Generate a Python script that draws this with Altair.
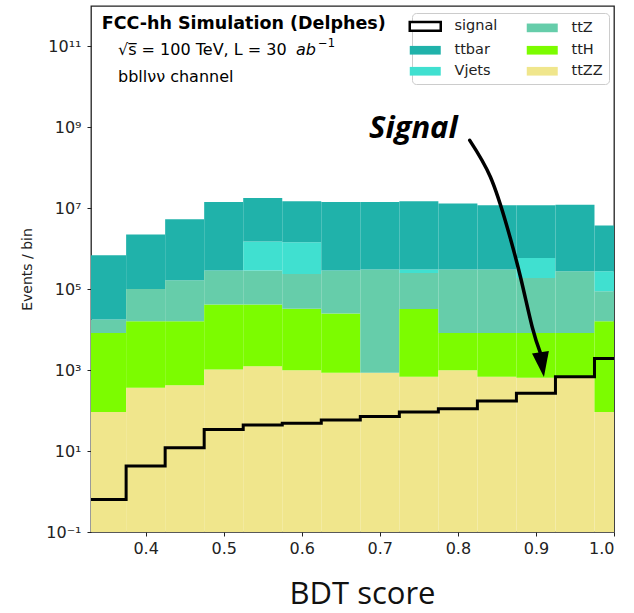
import altair as alt
import pandas as pd

# ---------------- data ----------------
bin_lo = [0.325, 0.375, 0.425, 0.475, 0.525, 0.575, 0.625, 0.675, 0.725, 0.775, 0.825, 0.875, 0.925, 0.975]
bin_hi = [0.375, 0.425, 0.475, 0.525, 0.575, 0.625, 0.675, 0.725, 0.775, 0.825, 0.875, 0.925, 0.975, 1.025]

# per-process events / bin (stack order bottom -> top)
ttZZ = [92, 366, 426, 1040, 1256, 1000, 867, 859, 684, 1000, 684, 645, 711, 92]
ttH = [8200, 15800, 15800, 40900, 40600, 31700, 24200, 0, 32000, 7300, 7600, 7650, 7600, 16100]
ttZ = [9600, 85800, 150800, 248000, 248000, 206000, 265000, 305000, 220000, 298000, 298000, 182000, 270000, 72800]
Vjets = [0, 0, 0, 0, 1220000, 1210000, 0, 0, 53000, 0, 0, 403000, 0, 189000]
ttbar = [672000, 2140000, 5180000, 14000000, 16500000, 13450000, 14000000, 14000000, 14600000,
         12800000, 11600000, 11300000, 12000000, 3460000]
signal = [0.64, 4.3, 12, 34, 44, 49, 59, 72, 92, 111, 172, 270, 684, 1945]

stack_names = ["ttZZ", "ttH", "ttZ", "Vjets", "ttbar"]
stack_vals = [ttZZ, ttH, ttZ, Vjets, ttbar]

legend_order = ["signal", "ttbar", "Vjets", "ttZ", "ttH", "ttZZ"]
legend_colors = ["#ffffff", "#20B2AA", "#40E0D0", "#66CDAA", "#7CFC00", "#F0E68C"]

y_ticks = [0.1, 10, 1e3, 1e5, 1e7, 1e9, 1e11]
x_ticks = [0.4, 0.5, 0.6, 0.7, 0.8, 0.9, 1.0]

# ---------------- tables ----------------
rows = []
for i in range(len(bin_lo)):
    cum = 0.1
    for name, vals in zip(stack_names, stack_vals):
        bottom = cum
        top = (cum if cum > 0.1 else 0) + vals[i]
        top = max(top, bottom)
        rows.append({"process": name, "lo": bin_lo[i], "hi": bin_hi[i], "bottom": bottom, "top": top})
        cum = top
df = pd.DataFrame(rows)

sig_df = pd.DataFrame({"x": bin_lo + [bin_hi[-1]], "y": signal + [signal[-1]]})

# annotation arrow (BDT score, log10 events)
arrow_x = [0.8152, 0.8417, 0.8631, 0.8802, 0.8952, 0.9059]
arrow_logy = [8.68, 7.774, 6.538, 5.302, 4.066, 3.416]
arrow_df = pd.DataFrame({"x": arrow_x, "y": [10 ** v for v in arrow_logy], "i": list(range(len(arrow_x)))})
head_df = pd.DataFrame({"x": [0.908], "y": [10 ** 3.137]})

# ---------------- encodings ----------------
xscale = alt.Scale(domain=[0.33, 1.0], nice=False, zero=False)
yscale = alt.Scale(type="log", domain=[0.1, 1e12], nice=False)

xaxis = alt.Axis(values=x_ticks, format=".1f", title="BDT score", titleFont="Open Sans",
                 titleFontSize=31, titleFontWeight="normal", titleColor="#111",
                 titleX=271, titleY=71, titleAnchor="start", titleAlign="center",
                 titleBaseline="alphabetic", labelPadding=4)
yaxis = alt.Axis(values=y_ticks,
                 labelExpr="'10' + ['⁻¹','¹','³','⁵','⁷','⁹','¹¹'][round((log(datum.value)/LN10 + 1)/2)]",
                 title="Events / bin", titleFont="DejaVu Sans", titleFontSize=14,
                 titleFontWeight="normal", titleColor="#222", titleAngle=-90,
                 titleX=-64, titleY=263, titleAlign="center", titleBaseline="middle",
                 labelPadding=6)


def X(field):
    return alt.X(field, scale=xscale, axis=xaxis, title="BDT score")


def Y(field):
    return alt.Y(field, scale=yscale, axis=yaxis, title="Events / bin")


bars = alt.Chart(df).mark_rect(clip=True).encode(
    x=X("lo:Q"), x2="hi:Q",
    y=Y("top:Q"), y2="bottom:Q",
    color=alt.Color("process:N",
                    scale=alt.Scale(domain=legend_order, range=legend_colors),
                    legend=alt.Legend(
                        title=None, orient="none", legendX=321, legendY=7, columns=2,
                        symbolType="M-1,-0.28H1V0.28H-1Z", symbolSize=961,
                        symbolStrokeColor="black",
                        symbolStrokeWidth={"expr": "datum.value == 'signal' ? 2.5 : 0"},
                        labelFont="DejaVu Sans", labelFontSize=14.5, labelColor="#222",
                        labelOffset=22, columnPadding=28, rowPadding=6, padding=6,
                        strokeColor="#cccccc", fillColor="rgba(255,255,255,0.85)",
                        cornerRadius=4)),
)

sig_line = alt.Chart(sig_df).mark_line(interpolate="step-after", color="black",
                                       strokeWidth=3, clip=True).encode(x=X("x:Q"), y=Y("y:Q"))

arrow = alt.Chart(arrow_df).mark_line(interpolate="natural", color="black", strokeWidth=3.5,
                                      strokeCap="round").encode(x=X("x:Q"), y=Y("y:Q"), order="i:Q")
head = alt.Chart(head_df).mark_point(shape="M-0.68,-1L0.68,-1L0,1Z", filled=True, size=625,
                                     angle=352, color="black", opacity=1).encode(x=X("x:Q"), y=Y("y:Q"))


def label(text, x, y, size, weight="normal", style="normal", font="DejaVu Sans"):
    return alt.Chart(pd.DataFrame({"t": [text]})).mark_text(
        align="left", baseline="alphabetic", fontSize=size, fontWeight=weight,
        fontStyle=style, font=font, color="black").encode(
        x=alt.value(x), y=alt.value(y), text="t:N")


texts = [
    label("FCC-hh Simulation (Delphes)", 10.7, 23.3, 17.5, weight="bold"),
    label("√s̅ = 100 TeV, L = 30", 27, 49.3, 16),
    label("ab", 205, 49.3, 16, style="italic"),
    label("−1", 227, 41, 11.5),
    label("bbllνν channel", 27, 76, 16),
    label("Signal", 278, 132.3, 31, weight="bold", style="italic", font="Open Sans"),
]

chart = alt.layer(bars, sig_line, arrow, head, *texts).properties(
    width=523, height=526,
    padding={"left": 91, "top": 6, "right": 20, "bottom": 81},
    autosize=alt.AutoSizeParams(type="none"),
).configure_view(stroke="#222", strokeWidth=1.3).configure_axis(
    grid=False, domain=False, tickSize=4, tickColor="#222", tickWidth=1,
    labelFont="DejaVu Sans", labelFontSize=16, labelColor="#222",
)

chart.save("out.html", embed_options={"renderer": "svg", "actions": False})
